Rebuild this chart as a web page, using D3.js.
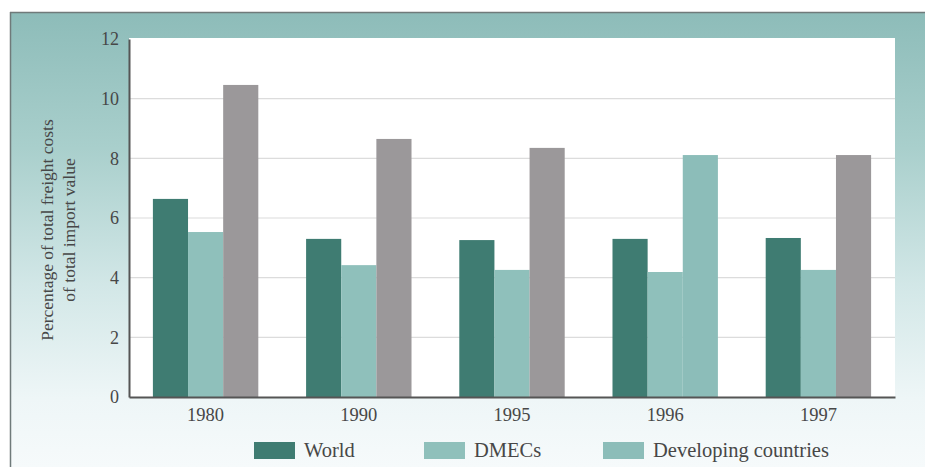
<!DOCTYPE html>
<html>
<head>
<meta charset="utf-8">
<script src="https://cdn.jsdelivr.net/npm/d3@7"></script>
<style>
  body { margin: 0; background: #fff; }
</style>
</head>
<body>
<div id="chart"></div>
<script>
// chart data
const years = ["1980", "1990", "1995", "1996", "1997"];
const seriesNames = ["World", "DMECs", "Developing countries"];
const world = [6.64, 5.30, 5.26, 5.30, 5.33];
const dmecs = [5.53, 4.42, 4.26, 4.19, 4.26];
const developing = [10.46, 8.65, 8.35, 8.11, 8.11];
const yTicks = [0, 2, 4, 6, 8, 10, 12];

const W = 925, H = 467;
const plot = { left: 129, right: 895, top: 39, bottom: 397 };
const serif = "'Liberation Serif', 'Times New Roman', Times, 'DejaVu Serif', serif";
const textColor = "#474747";

const colors = { "World": "#3f7c72", "DMECs": "#8fc0bb", "Developing countries": "#9b989a" };
const devColor1996 = "#8cbdb9"; // the 1996 bar in the source is printed teal

const svg = d3.select("#chart").append("svg")
    .attr("width", W)
    .attr("height", H)
    .attr("font-family", serif);

// background panel with teal fade
const defs = svg.append("defs");
const grad = defs.append("linearGradient")
    .attr("id", "bg")
    .attr("x1", 0).attr("y1", 0).attr("x2", 0).attr("y2", 1);
grad.append("stop").attr("offset", "0%").attr("stop-color", "#8dbcb9");
grad.append("stop").attr("offset", "30%").attr("stop-color", "#a9cfcc");
grad.append("stop").attr("offset", "60%").attr("stop-color", "#d2e7e7");
grad.append("stop").attr("offset", "85%").attr("stop-color", "#eef6f7");
grad.append("stop").attr("offset", "100%").attr("stop-color", "#f6fafb");

svg.append("rect")
    .attr("x", 10).attr("y", 12)
    .attr("width", W - 10).attr("height", H - 12)
    .attr("fill", "url(#bg)");
// frame edges
svg.append("line").attr("x1", 10).attr("x2", W).attr("y1", 12.5).attr("y2", 12.5)
    .attr("stroke", "#6f7a7a").attr("stroke-width", 1.5);
svg.append("line").attr("x1", 10.5).attr("x2", 10.5).attr("y1", 12).attr("y2", H)
    .attr("stroke", "#6f7a7a").attr("stroke-width", 1.5);

// white plot area
svg.append("rect")
    .attr("x", plot.left).attr("y", plot.top - 1)
    .attr("width", plot.right - plot.left).attr("height", plot.bottom - plot.top + 1)
    .attr("fill", "#ffffff");

const x0 = d3.scaleBand()
    .domain(years)
    .range([plot.left, plot.right]);

const x1 = d3.scaleBand()
    .domain(seriesNames)
    .range([0, x0.bandwidth()])
    .paddingInner(0)
    .paddingOuter(0.68);

const y = d3.scaleLinear()
    .domain([0, 12])
    .range([plot.bottom, plot.top]);

// gridlines
svg.append("g")
    .selectAll("line")
    .data(yTicks.filter(t => t > 0 && t < 12))
    .join("line")
    .attr("x1", plot.left).attr("x2", plot.right)
    .attr("y1", d => y(d)).attr("y2", d => y(d))
    .attr("stroke", "#dcdcdc")
    .attr("stroke-width", 1.2);

// bars
const rows = years.map((yr, i) => ({
    year: yr,
    values: [
        { key: "World", value: world[i] },
        { key: "DMECs", value: dmecs[i] },
        { key: "Developing countries", value: developing[i] }
    ]
}));

const groups = svg.append("g")
    .selectAll("g")
    .data(rows)
    .join("g")
    .attr("transform", d => `translate(${x0(d.year)},0)`);

groups.selectAll("rect")
    .data(d => d.values.map(v => Object.assign({ year: d.year }, v)))
    .join("rect")
    .attr("x", d => x1(d.key))
    .attr("y", d => y(d.value))
    .attr("width", x1.bandwidth())
    .attr("height", d => y(0) - y(d.value))
    .attr("fill", d => (d.year === "1996" && d.key === "Developing countries") ? devColor1996 : colors[d.key]);

// axes
const yAxis = svg.append("g")
    .attr("transform", `translate(${plot.left},0)`)
    .call(d3.axisLeft(y).tickValues(yTicks).tickSize(0).tickPadding(10))
    .attr("font-family", serif)
    .attr("font-size", 18);
yAxis.select(".domain").attr("stroke", "#555").attr("stroke-width", 2);
yAxis.selectAll("text").attr("fill", textColor);

const xAxis = svg.append("g")
    .attr("transform", `translate(0,${plot.bottom})`)
    .call(d3.axisBottom(x0).tickSize(0).tickPadding(11))
    .attr("font-family", serif)
    .attr("font-size", 18.5);
xAxis.select(".domain").attr("stroke", "#555").attr("stroke-width", 2);
xAxis.selectAll("text").attr("fill", textColor);

// y axis title
const yTitle = svg.append("text")
    .attr("transform", "rotate(-90)")
    .attr("text-anchor", "middle")
    .attr("font-family", serif)
    .attr("font-size", 17.5)
    .attr("fill", textColor);
yTitle.append("tspan").attr("x", -230).attr("y", 53).text("Percentage of total freight costs");
yTitle.append("tspan").attr("x", -230).attr("y", 75).text("of total import value");

// legend
const legendItems = [
    { key: "World", x: 254, color: colors["World"] },
    { key: "DMECs", x: 424, color: colors["DMECs"] },
    { key: "Developing countries", x: 603, color: devColor1996 }
];
const legend = svg.append("g")
    .selectAll("g")
    .data(legendItems)
    .join("g")
    .attr("transform", d => `translate(${d.x},442)`);
legend.append("rect")
    .attr("width", 41).attr("height", 17)
    .attr("fill", d => d.color);
legend.append("text")
    .attr("x", 50).attr("y", 15)
    .attr("font-family", serif)
    .attr("font-size", 20.5)
    .attr("fill", textColor)
    .text(d => d.key);
</script>
</body>
</html>
